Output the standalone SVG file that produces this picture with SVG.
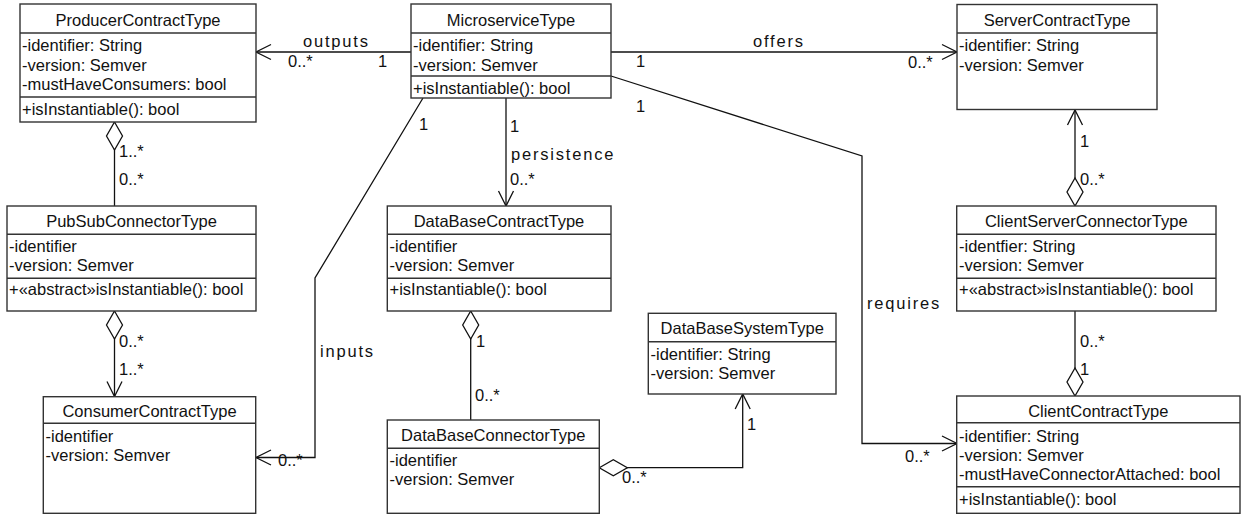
<svg xmlns="http://www.w3.org/2000/svg" width="1244" height="516" viewBox="0 0 1244 516">
<style>
.box{fill:#fff;stroke:#333;stroke-width:1.4}
.div{stroke:#333;stroke-width:1.4}
text{font-family:"Liberation Sans",Arial,sans-serif;font-size:16.5px;fill:#111}
.h{text-anchor:middle}
.lbl{letter-spacing:1.8px}
.c{fill:none;stroke:#111;stroke-width:1.3}
</style>
<defs>
<marker id="arr" viewBox="-17 -10 20 20" refX="0" refY="0" markerWidth="20" markerHeight="20" orient="auto" markerUnits="userSpaceOnUse">
<path d="M-15,-7.5 L0,0 L-15,7.5" fill="none" stroke="#111" stroke-width="1.3"/>
</marker>
<marker id="dia" viewBox="-1 -10 31 20" refX="0" refY="0" markerWidth="31" markerHeight="20" orient="auto" markerUnits="userSpaceOnUse">
<path d="M0,0 L14,-8 L28,0 L14,8 Z" fill="#fff" stroke="#111" stroke-width="1.3"/>
</marker>
</defs>

<g id="connectors">
<path class="c" d="M411,52 L256,52" marker-end="url(#arr)"/>
<path class="c" d="M611,52 L957,52" marker-end="url(#arr)"/>
<path class="c" d="M611,76 L862,156 L862,443.5 L957,443.5" marker-end="url(#arr)"/>
<path class="c" d="M423,98 L315,278 L315,457.5 L256,457.5" marker-end="url(#arr)"/>
<path class="c" d="M506,98 L506,206" marker-end="url(#arr)"/>
<path class="c" d="M114.5,122 L114.5,206" marker-start="url(#dia)"/>
<path class="c" d="M114.5,311 L114.5,396.5" marker-start="url(#dia)" marker-end="url(#arr)"/>
<path class="c" d="M470.7,311 L470.7,420" marker-start="url(#dia)"/>
<path class="c" d="M599.3,467.7 L742.7,467.7 L742.7,394" marker-start="url(#dia)" marker-end="url(#arr)"/>
<path class="c" d="M1075,206 L1075,110" marker-start="url(#dia)" marker-end="url(#arr)"/>
<path class="c" d="M1075,396 L1075,311" marker-start="url(#dia)"/>

<text class="lbl" x="303" y="47">outputs</text>
<text x="288" y="67">0..*</text>
<text x="378" y="67">1</text>

<text class="lbl" x="753" y="47">offers</text>
<text x="636" y="67">1</text>
<text x="908" y="68">0..*</text>

<text x="636" y="112">1</text>
<text class="lbl" x="867" y="309">requires</text>
<text x="905" y="462">0..*</text>

<text x="419" y="130">1</text>
<text class="lbl" x="320" y="357">inputs</text>
<text x="278" y="466">0..*</text>

<text x="510" y="132">1</text>
<text class="lbl" x="511" y="160">persistence</text>
<text x="510" y="185">0..*</text>

<text x="119" y="157">1..*</text>
<text x="119" y="185">0..*</text>

<text x="119" y="347">0..*</text>
<text x="119" y="375">1..*</text>

<text x="476" y="347">1</text>
<text x="475" y="401">0..*</text>

<text x="747" y="430">1</text>
<text x="622" y="483">0..*</text>

<text x="1080" y="147">1</text>
<text x="1080" y="185">0..*</text>

<text x="1080" y="347">0..*</text>
<text x="1080" y="375">1</text>
</g>

<g id="ProducerContractType">
<rect class="box" x="20" y="4" width="236" height="118"/>
<line class="div" x1="20" y1="33" x2="256" y2="33"/>
<line class="div" x1="20" y1="97" x2="256" y2="97"/>
<text class="h" x="138" y="26">ProducerContractType</text>
<text x="22" y="51">-identifier: String</text>
<text x="22" y="70.5">-version: Semver</text>
<text x="22" y="90">-mustHaveConsumers: bool</text>
<text x="22" y="115">+isInstantiable(): bool</text>
</g>

<g id="MicroserviceType">
<rect class="box" x="411" y="4" width="200" height="94"/>
<line class="div" x1="411" y1="33" x2="611" y2="33"/>
<line class="div" x1="411" y1="76" x2="611" y2="76"/>
<text class="h" x="511" y="26">MicroserviceType</text>
<text x="413" y="51">-identifier: String</text>
<text x="413" y="70.5">-version: Semver</text>
<text x="413" y="94">+isInstantiable(): bool</text>
</g>

<g id="ServerContractType">
<rect class="box" x="957" y="4.5" width="200" height="105"/>
<line class="div" x1="957" y1="33" x2="1157" y2="33"/>
<text class="h" x="1057" y="26">ServerContractType</text>
<text x="959" y="51">-identifier: String</text>
<text x="959" y="70.5">-version: Semver</text>
</g>

<g id="PubSubConnectorType">
<rect class="box" x="7" y="206" width="249" height="105"/>
<line class="div" x1="7" y1="234.3" x2="256" y2="234.3"/>
<line class="div" x1="7" y1="278.3" x2="256" y2="278.3"/>
<text class="h" x="131.5" y="226.5">PubSubConnectorType</text>
<text x="9" y="252">-identifier</text>
<text x="9" y="271">-version: Semver</text>
<text x="9" y="295">+«abstract»isInstantiable(): bool</text>
</g>

<g id="DataBaseContractType">
<rect class="box" x="387.3" y="206" width="223.7" height="105"/>
<line class="div" x1="387.3" y1="234.3" x2="611" y2="234.3"/>
<line class="div" x1="387.3" y1="278.3" x2="611" y2="278.3"/>
<text class="h" x="499" y="226.5">DataBaseContractType</text>
<text x="389.5" y="252">-identifier</text>
<text x="389.5" y="271">-version: Semver</text>
<text x="389.5" y="295">+isInstantiable(): bool</text>
</g>

<g id="ClientServerConnectorType">
<rect class="box" x="956.7" y="206" width="259.3" height="105"/>
<line class="div" x1="956.7" y1="234.3" x2="1216" y2="234.3"/>
<line class="div" x1="956.7" y1="278.3" x2="1216" y2="278.3"/>
<text class="h" x="1086.3" y="226.5">ClientServerConnectorType</text>
<text x="959" y="252">-identfier: String</text>
<text x="959" y="271">-version: Semver</text>
<text x="959" y="295">+«abstract»isInstantiable(): bool</text>
</g>

<g id="DataBaseSystemType">
<rect class="box" x="648.3" y="313.3" width="187.7" height="80.7"/>
<line class="div" x1="648.3" y1="341.7" x2="836" y2="341.7"/>
<text class="h" x="742.2" y="334">DataBaseSystemType</text>
<text x="650.5" y="359.5">-identifier: String</text>
<text x="650.5" y="379">-version: Semver</text>
</g>

<g id="ConsumerContractType">
<rect class="box" x="43.3" y="396.7" width="212.4" height="116.6"/>
<line class="div" x1="43.3" y1="423.3" x2="255.7" y2="423.3"/>
<text class="h" x="149.5" y="417">ConsumerContractType</text>
<text x="45.5" y="442">-identifier</text>
<text x="45.5" y="461">-version: Semver</text>
</g>

<g id="DataBaseConnectorType">
<rect class="box" x="387.3" y="420" width="212" height="93.3"/>
<line class="div" x1="387.3" y1="448.3" x2="599.3" y2="448.3"/>
<text class="h" x="493.3" y="441">DataBaseConnectorType</text>
<text x="389.5" y="465.5">-identifier</text>
<text x="389.5" y="484.5">-version: Semver</text>
</g>

<g id="ClientContractType">
<rect class="box" x="956.7" y="396" width="283.3" height="117.3"/>
<line class="div" x1="956.7" y1="422.7" x2="1240" y2="422.7"/>
<line class="div" x1="956.7" y1="486.7" x2="1240" y2="486.7"/>
<text class="h" x="1098.3" y="417">ClientContractType</text>
<text x="959" y="442">-identifier: String</text>
<text x="959" y="461">-version: Semver</text>
<text x="959" y="480">-mustHaveConnectorAttached: bool</text>
<text x="959" y="505">+isInstantiable(): bool</text>
</g>
</svg>
